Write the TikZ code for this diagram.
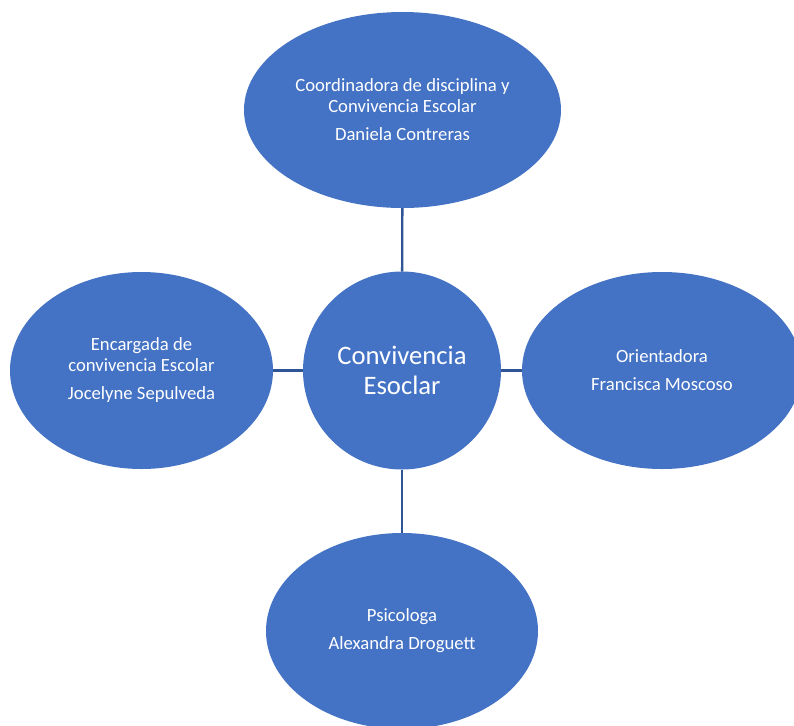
\documentclass[tikz,border=0pt]{standalone}
\usepackage{fontspec}
\setmainfont{Carlito}
\usetikzlibrary{shapes.geometric}
\definecolor{office}{HTML}{4472C4}
\definecolor{linkblue}{HTML}{2F5597}
\tikzset{
  bubble/.style={ellipse, fill=office, draw=none, inner sep=0pt, outer sep=0pt,
    text=white, align=center, font=\fontsize{14}{15.75}\selectfont},
  hub/.style={circle, fill=office, draw=none, inner sep=0pt, outer sep=0pt,
    text=white, align=center, font=\fontsize{20}{22}\selectfont},
  link/.style={draw=linkblue, line width=1.8pt}
}
\begin{document}
\begin{tikzpicture}[x=0.75pt,y=-0.75pt]
\useasboundingbox (0,0) rectangle (794,726);
\fill[white] (0,0) rectangle (794,726);
\clip (0,0) rectangle (794,726);
\node[hub, minimum size=148.5pt] (c) at (402,370.5) {Convivencia\\Esoclar};
\node[bubble, minimum width=237.75pt, minimum height=147pt] (t) at (402.5,110)
  {Coordinadora de disciplina y\\Convivencia Escolar\\[5.25pt]Daniela Contreras};
\node[bubble, minimum width=197.25pt, minimum height=147.75pt] (l) at (141.5,370.5)
  {Encargada de\\convivencia Escolar\\[5.25pt]Jocelyne Sepulveda};
\node[bubble, minimum width=210pt, minimum height=147.75pt] (r) at (662,370.5)
  {Orientadora\\[5.25pt]Francisca Moscoso};
\node[bubble, minimum width=204pt, minimum height=147pt] (b) at (402,631)
  {Psicologa\\[5.25pt]Alexandra Droguett};
\draw[link] (t) -- (c);
\draw[link] (l) -- (c);
\draw[link] (c) -- (r);
\draw[link] (c) -- (b);
\end{tikzpicture}
\end{document}
